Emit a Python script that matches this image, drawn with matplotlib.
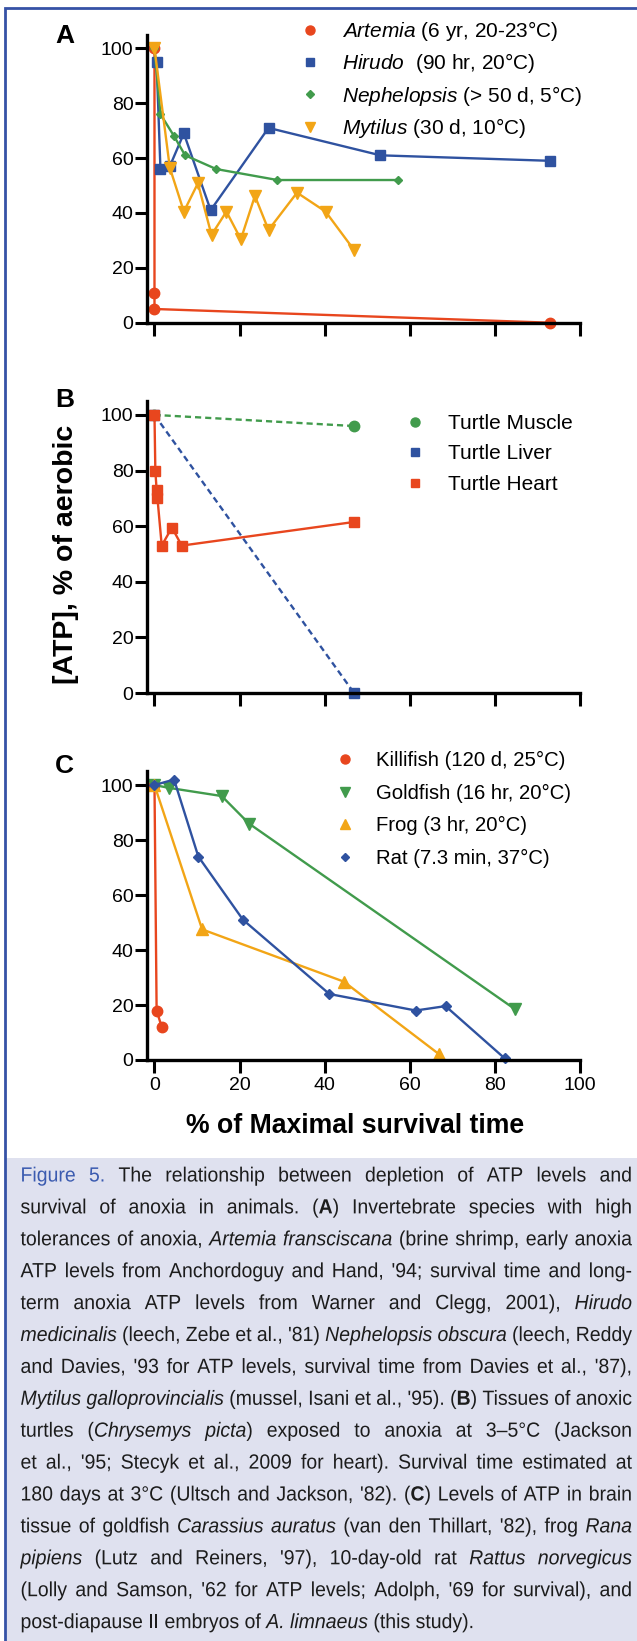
import numpy as np
import matplotlib
matplotlib.use("Agg")
import matplotlib.pyplot as plt
from matplotlib.lines import Line2D
from matplotlib.patches import Rectangle, PathPatch
from matplotlib.textpath import TextPath
from matplotlib.transforms import Affine2D
from matplotlib import font_manager as fm

W, H = 637, 1641

# ---- panel A: invertebrates ----
artemia_x = [0, 0, 0, 93]
artemia_y = [100, 11, 5, 0]
hirudo_x = [0.5, 1.4, 3.6, 6.9, 13.2, 26.8, 53.1, 93]
hirudo_y = [95, 56, 57, 69, 41, 71, 61, 59]
neph_x = [0, 1.4, 4.6, 7.2, 14.5, 28.9, 57.2]
neph_y = [100, 76, 68, 61, 56, 52, 52]
mytilus_x = [0, 3.6, 6.9, 10.2, 13.4, 16.9, 20.3, 23.6, 26.8, 33.5, 40.2, 46.9]
mytilus_y = [100, 56.5, 40.5, 50.8, 32, 40.5, 30.4, 46.2, 33.8, 47.4, 40.5, 26.5]

# ---- panel B: turtle tissues ----
muscle_x = [0, 46.9]
muscle_y = [100, 96]
liver_x = [0, 46.9]
liver_y = [100, 0]
heart_x = [0, 0.2, 0.5, 0.7, 1.7, 4.1, 6.4, 46.9]
heart_y = [100, 80, 73, 70, 53, 59.5, 53, 61.5]

# ---- panel C: vertebrates ----
killi_x = [0, 0.5, 1.7]
killi_y = [100, 18, 12]
gold_x = [0, 3.3, 15.8, 22.2, 84.7]
gold_y = [100, 99, 96, 86, 18.5]
frog_x = [0, 11.2, 44.5, 66.8]
frog_y = [100, 47.5, 28.5, 2.2]
rat_x = [0, 4.6, 10.3, 20.8, 41.1, 61.4, 68.4, 82.3]
rat_y = [100, 102, 74, 51, 24, 18, 19.6, 0.6]

labels_a = [r"$\mathit{Artemia}$ (6 yr, 20-23°C)", r"$\mathit{Hirudo}$  (90 hr, 20°C)",
            r"$\mathit{Nephelopsis}$ (> 50 d, 5°C)", r"$\mathit{Mytilus}$ (30 d, 10°C)"]
labels_b = ["Turtle Muscle", "Turtle Liver", "Turtle Heart"]
labels_c = ["Killifish (120 d, 25°C)", "Goldfish (16 hr, 20°C)",
            "Frog (3 hr, 20°C)", "Rat (7.3 min, 37°C)"]
yticks = [0, 20, 40, 60, 80, 100]
xticks = [0, 20, 40, 60, 80, 100]

red = "#e8461e"
blue = "#2f52a0"
green = "#419b4c"
orange = "#f2a516"
border = "#3552a6"

plt.rcParams["font.family"] = ["Liberation Sans", "DejaVu Sans"]
plt.rcParams["mathtext.fontset"] = "custom"
plt.rcParams["mathtext.rm"] = "Liberation Sans"
plt.rcParams["mathtext.it"] = "Liberation Sans:italic"
plt.rcParams["mathtext.bf"] = "Liberation Sans:bold"

fig = plt.figure(figsize=(W / 100, H / 100), dpi=100)


def fx(px):
    return px / W


def fy(py):
    return 1 - py / H


def make_axes(top, bottom):
    ax = fig.add_axes([fx(146.7), fy(bottom), (580 - 146.7) / W, (bottom - top) / H])
    ax.set_xlim(-1.83, 100)
    ax.set_ylim(0, 105)
    for s in ["top", "right"]:
        ax.spines[s].set_visible(False)
    for s in ["left", "bottom"]:
        ax.spines[s].set_linewidth(2.4)
    ax.set_yticks(yticks)
    ax.set_xticks(xticks)
    ax.tick_params(axis="both", direction="out", length=9, width=2.2, labelsize=14)
    ax.tick_params(axis="y", pad=0.5)
    ax.tick_params(axis="x", pad=3.5)
    ax.patch.set_visible(False)
    return ax


lw = 1.7
axA = make_axes(34.6, 322.7)
axA.plot(artemia_x, artemia_y, color=red, lw=lw, marker="o", ms=7.5, clip_on=False)
axA.plot(hirudo_x, hirudo_y, color=blue, lw=lw, marker="s", ms=7.2, clip_on=False)
axA.plot(neph_x, neph_y, color=green, lw=lw, marker="D", ms=4.3, clip_on=False)
axA.plot(mytilus_x, mytilus_y, color=orange, lw=lw, marker="v", ms=8, clip_on=False)
axA.set_xticklabels([])

axB = make_axes(401, 693)
axB.plot(muscle_x, muscle_y, color=green, lw=lw, ls="--", dashes=(2.6, 1.7), marker="o", ms=7.5, clip_on=False)
axB.plot(liver_x, liver_y, color=blue, lw=lw, ls="--", dashes=(2.6, 1.7), marker="s", ms=7.2, clip_on=False)
axB.plot(heart_x, heart_y, color=red, lw=lw, marker="s", ms=7.2, clip_on=False)
axB.set_xticklabels([])

axC = make_axes(771.3, 1060)
axC.plot(killi_x, killi_y, color=red, lw=lw, marker="o", ms=7.5, clip_on=False)
axC.plot(gold_x, gold_y, color=green, lw=lw, marker="v", ms=8, clip_on=False)
axC.plot(frog_x, frog_y, color=orange, lw=lw, marker="^", ms=8, clip_on=False)
axC.plot(rat_x, rat_y, color=blue, lw=lw, marker="D", ms=5, clip_on=False)


def marker_handles(specs):
    return [Line2D([], [], ls="none", color=c, marker=m, ms=s) for c, m, s in specs]


def add_legend(ax, handles, labels, left, top, pad, size, spacing):
    ax.legend(handles, labels, loc="upper left", bbox_to_anchor=(fx(left), fy(top)),
              bbox_transform=fig.transFigure, frameon=False, fontsize=size,
              handlelength=1.0, handletextpad=pad, borderpad=0, borderaxespad=0,
              labelspacing=spacing, numpoints=1)


add_legend(axA, marker_handles([(red, "o", 6.5), (blue, "s", 6), (green, "D", 4.2), (orange, "v", 7)]),
           labels_a, 299.6, 19, 1.04, 15, 0.40)
add_legend(axB, marker_handles([(green, "o", 6.5), (blue, "s", 6), (red, "s", 6)]),
           labels_b, 404.6, 414, 1.09, 15, 0.55)
add_legend(axC, marker_handles([(red, "o", 6.5), (green, "v", 7), (orange, "^", 7), (blue, "D", 4.4)]),
           labels_c, 334.9, 751, 1.03, 14.6, 0.67)

# panel letters and axis titles
for letter, base in [("A", 43), ("B", 407), ("C", 773)]:
    fig.text(fx(55), fy(base), letter, fontsize=19, fontweight="bold", ha="left", va="baseline")
fig.text(fx(66), fy(554), "[ATP], % of aerobic", rotation=90, fontsize=20.5,
         fontweight="bold", ha="center", va="center")
fig.text(fx(355), fy(1133), "% of Maximal survival time", fontsize=19.2,
         fontweight="bold", ha="center", va="baseline")

# frame and caption box
fig.add_artist(Rectangle((fx(5), fy(1645)), (640 - 5) / W, (1645 - 1158) / H,
                         transform=fig.transFigure, fc="#dfe1ef", ec="none", zorder=1))
fig.add_artist(Rectangle((fx(5), fy(1645)), (640 - 5) / W, (1645 - 8) / H,
                         transform=fig.transFigure, fill=False, ec=border, lw=2, zorder=2))

cap_lines = [
    [("Figure 5.", "blue"), (" The relationship between depletion of ATP levels and", "n")],
    [("survival of anoxia in animals. (", "n"), ("A", "b"), (") Invertebrate species with high", "n")],
    [("tolerances of anoxia, ", "n"), ("Artemia fransciscana", "i"), (" (brine shrimp, early anoxia", "n")],
    [("ATP levels from Anchordoguy and Hand, '94; survival time and long-", "n")],
    [("term anoxia ATP levels from Warner and Clegg, 2001), ", "n"), ("Hirudo", "i")],
    [("medicinalis", "i"), (" (leech, Zebe et al., '81) ", "n"), ("Nephelopsis obscura", "i"), (" (leech, Reddy", "n")],
    [("and Davies, '93 for ATP levels, survival time from Davies et al., '87),", "n")],
    [("Mytilus galloprovincialis", "i"), (" (mussel, Isani et al., '95). (", "n"), ("B", "b"), (") Tissues of anoxic", "n")],
    [("turtles (", "n"), ("Chrysemys picta", "i"), (") exposed to anoxia at 3–5°C (Jackson", "n")],
    [("et al., '95; Stecyk et al., 2009 for heart). Survival time estimated at", "n")],
    [("180 days at 3°C (Ultsch and Jackson, '82). (", "n"), ("C", "b"), (") Levels of ATP in brain", "n")],
    [("tissue of goldfish ", "n"), ("Carassius auratus", "i"), (" (van den Thillart, '82), frog ", "n"), ("Rana", "i")],
    [("pipiens", "i"), (" (Lutz and Reiners, '97), 10-day-old rat ", "n"), ("Rattus norvegicus", "i")],
    [("(Lolly and Samson, '62 for ATP levels; Adolph, '69 for survival), and", "n")],
    [("post-diapause II embryos of ", "n"), ("A. limnaeus", "i"), (" (this study).", "n")],
]

# caption is set in a narrowed sans: glyph outlines squeezed horizontally, lines justified
cap_size = 20.5
styles = ["n", "i", "b", "blue"]
cap_props = {st: fm.FontProperties(family="Liberation Sans",
                                   style="italic" if st == "i" else "normal",
                                   weight="bold" if st == "b" else "normal") for st in styles}
l_end = {st: TextPath((0, 0), "l", size=cap_size, prop=cap_props[st]).get_extents().x1 for st in styles}


def adv(s, st):
    return TextPath((0, 0), s + "l", size=cap_size, prop=cap_props[st]).get_extents().x1 - l_end[st]


def words_of(line):
    words = [[]]
    for txt, st in line:
        for k, p in enumerate(txt.split(" ")):
            if k > 0:
                words.append([])
            if p:
                words[-1].append((p, st))
    return [w for w in words if w]


x0, x1 = 20.5, 632
line_words = [words_of(line) for line in cap_lines]
line_adv = [[[adv(s, st) for s, st in w] for w in ws] for ws in line_words]
min_gap = 0.2 * cap_size
sx = min([(x1 - x0 - (len(ws) - 1) * min_gap) / sum(sum(a) for a in advs)
          for ws, advs in zip(line_words[:-1], line_adv[:-1])] + [0.95])
space_w = adv(" ", "n") * sx

for i, (ws, advs) in enumerate(zip(line_words, line_adv)):
    nat = sum(sum(a) for a in advs) * sx
    gap = (x1 - x0 - nat) / (len(ws) - 1) if i < len(cap_lines) - 1 else space_w
    base = 1181.5 + 31.9 * i
    x = x0
    for w, a in zip(ws, advs):
        for (s, st), d in zip(w, a):
            tp = TextPath((0, 0), s, size=cap_size, prop=cap_props[st])
            fig.add_artist(PathPatch(tp, transform=Affine2D().scale(sx, 1).translate(x, H - base),
                                     fc="#3b5bb0" if st == "blue" else "#1c1c1c", lw=0, zorder=3))
            x += d * sx
        x += gap

fig.savefig("out.png", dpi=100)
